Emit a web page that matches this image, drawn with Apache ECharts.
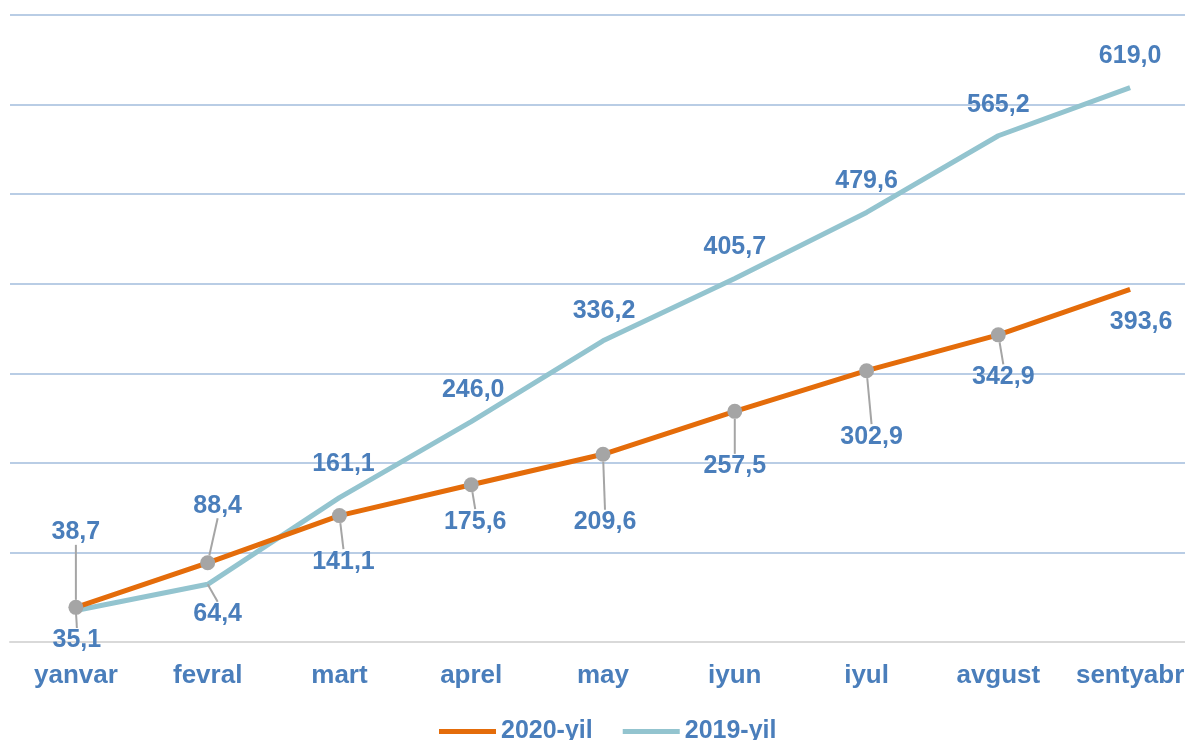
<!DOCTYPE html>
<html>
<head>
<meta charset="utf-8">
<script src="https://cdn.jsdelivr.net/npm/echarts@6/dist/echarts.min.js"></script>
<style>
html,body{margin:0;padding:0;background:#fff;}
#chart{width:1185px;height:740px;}
</style>
</head>
<body>
<div id="chart"></div>
<script>
const categories = ['yanvar','fevral','mart','aprel','may','iyun','iyul','avgust','sentyabr'];
const values2020 = [38.7, 88.4, 141.1, 175.6, 209.6, 257.5, 302.9, 342.9, 393.6];
const values2019 = [35.1, 64.4, 161.1, 246.0, 336.2, 405.7, 479.6, 565.2, 619.0];
const seriesNames = ['2020-yil', '2019-yil'];
// label offsets (dx, dy) relative to point, and whether a leader line is drawn
const offsets2020 = [[0,-75],[10,-57],[4,46],[4,37],[2,68],[0,55],[5,66],[5,42],[11,33]];
const leader2020 = [true,true,true,true,true,true,true,true,false];
const offsets2019 = [[1,30],[10,30],[4,-34],[2,-32],[1,-30],[0,-31],[0,-31],[0,-31],[0,-31]];
const leader2019 = [true,true,false,false,false,false,false,false,false];

const labelColor = '#4a7ebb';
const fontFam = '"Liberation Sans", Arial, sans-serif';
const fmt = v => v.toFixed(1).replace('.', ',');

const chart = echarts.init(document.getElementById('chart'));
chart.setOption({
  animation: false,
  grid: {left: 10, right: -11, top: 15, bottom: 98, outerBoundsMode: 'none', containLabel: false},
  legend: {
    bottom: -9, left: 434,
    itemWidth: 57, itemHeight: 5, itemGap: 30,
    icon: 'rect',
    textStyle: {color: labelColor, fontSize: 25, fontWeight: 'bold', fontFamily: fontFam},
    data: seriesNames
  },
  xAxis: {
    type: 'category', data: categories, boundaryGap: true,
    axisLine: {lineStyle: {color: '#d9d9d9', width: 2}},
    axisTick: {show: false},
    axisLabel: {color: labelColor, fontSize: 26, fontWeight: 'bold', fontFamily: fontFam, margin: 21, interval: 0}
  },
  yAxis: {
    type: 'value', min: 0, max: 700, interval: 100,
    axisLabel: {show: false}, axisLine: {show: false}, axisTick: {show: false},
    splitLine: {lineStyle: {color: '#b9cde5', width: 2}}
  },
  series: [
    {
      name: seriesNames[0], type: 'line', z: 3,
      lineStyle: {color: '#e46c0a', width: 5},
      itemStyle: {color: '#e46c0a'},
      symbol: 'circle', symbolSize: 15,
      showAllSymbol: true,
      data: values2020.map((v, i) => ({
        value: v,
        symbolSize: i === 8 ? 0 : 15,
        itemStyle: {color: '#a5a5a5'},
        labelLine: {show: leader2020[i]}
      })),
      label: {show: true, position: 'inside', formatter: p => fmt(p.value),
        color: labelColor, fontSize: 25, fontWeight: 'bold', fontFamily: fontFam},
      labelLine: {show: true, lineStyle: {color: '#a5a5a5', width: 2}},
      labelLayout: p => ({dx: offsets2020[p.dataIndex][0], dy: offsets2020[p.dataIndex][1]})
    },
    {
      name: seriesNames[1], type: 'line', z: 2,
      lineStyle: {color: '#93c4cf', width: 5},
      itemStyle: {color: '#93c4cf'},
      showSymbol: true, showAllSymbol: true,
      symbol: 'circle', symbolSize: 0,
      data: values2019.map((v, i) => ({
        value: v,
        labelLine: {show: leader2019[i]}
      })),
      label: {show: true, position: 'inside', formatter: p => fmt(p.value),
        color: labelColor, fontSize: 25, fontWeight: 'bold', fontFamily: fontFam},
      labelLine: {show: true, lineStyle: {color: '#a5a5a5', width: 2}},
      labelLayout: p => ({dx: offsets2019[p.dataIndex][0], dy: offsets2019[p.dataIndex][1]})
    }
  ]
});
</script>
</body>
</html>
